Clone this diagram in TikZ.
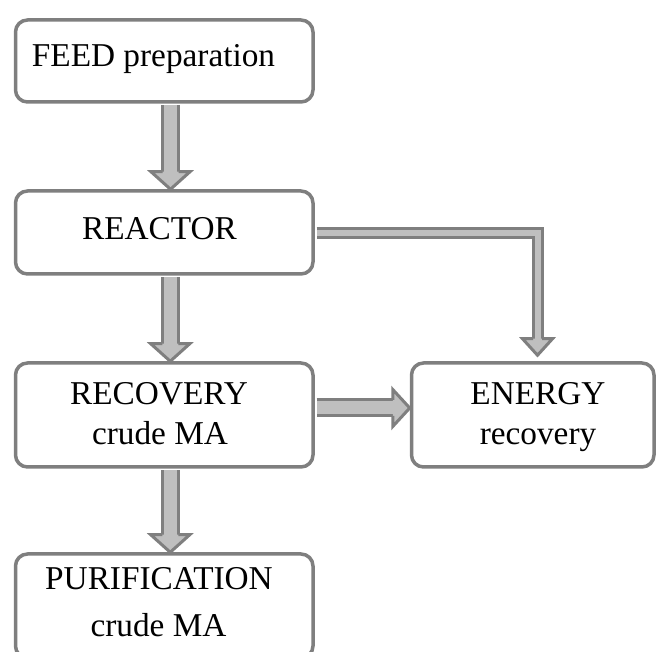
\documentclass[tikz,border=0pt]{standalone}
\usepackage{fontspec}
\setmainfont{Liberation Serif}
\usetikzlibrary{calc}
\definecolor{bordergray}{RGB}{127,127,127}
\definecolor{fillgray}{RGB}{191,191,191}
\begin{document}
\begin{tikzpicture}[x=1pt,y=-1pt,
  box/.style={draw=bordergray, line width=3.5pt, rounded corners=12pt, fill=white, inner sep=0pt},
  txt/.style={font=\fontsize{33.3}{40}\selectfont, inner sep=0pt, anchor=base},
  shaft/.style={draw=bordergray, line width=3pt, double=fillgray, double distance=13pt, line join=miter},
  thinshaft/.style={draw=bordergray, line width=3pt, double=fillgray, double distance=6pt, line join=miter},
  head/.style={draw=bordergray, fill=fillgray, line width=3pt, line join=miter}]

\useasboundingbox (0,0) rectangle (657,652);

% boxes
\node[box, minimum width=297.5pt, minimum height=82pt]  (feed)     at (164.25,61)  {};
\node[box, minimum width=297.5pt, minimum height=83pt]  (reactor)  at (164.25,232.5) {};
\node[box, minimum width=297.5pt, minimum height=104pt] (recovery) at (164.25,415) {};
\node[box, minimum width=242.5pt, minimum height=104pt] (energy)   at (532.75,415) {};
\node[box, minimum width=297.5pt, minimum height=104pt] (purif)    at (164.25,606) {};

% texts
\node[txt] (tfeed)    at (153.5,67)  {FEED preparation};
\node[txt] (treactor) at (159.5,240) {REACTOR};
\node[txt] (trec1)    at (159,405)   {RECOVERY};
\node[txt] (trec2)    at (160,445)   {crude MA};
\node[txt] (ten1)     at (538,405)   {ENERGY};
\node[txt] (ten2)     at (538,445)   {recovery};
\node[txt] (tpur1)    at (159,590)   {PURIFICATION};
\node[txt] (tpur2)    at (158.5,637) {crude MA};

% arrow FEED -> REACTOR
\coordinate (a1s) at ($(feed.south)+(6.25,1.75)$);
\coordinate (a1e) at ($(reactor.north)+(6.25,0)$);
\draw[shaft] (a1s) -- ($(a1e)+(0,-17.5)$);
\filldraw[head] ($(a1e)+(-8,-17.5)$) -- ($(a1e)+(-19.5,-17.5)$) -- (a1e) -- ($(a1e)+(19.5,-17.5)$) -- ($(a1e)+(8,-17.5)$);

% arrow REACTOR -> RECOVERY
\coordinate (a2s) at ($(reactor.south)+(6,1.75)$);
\coordinate (a2e) at ($(recovery.north)+(6,0)$);
\draw[shaft] (a2s) -- ($(a2e)+(0,-17.5)$);
\filldraw[head] ($(a2e)+(-8,-17.5)$) -- ($(a2e)+(-19.5,-17.5)$) -- (a2e) -- ($(a2e)+(19.5,-17.5)$) -- ($(a2e)+(8,-17.5)$);

% arrow RECOVERY -> PURIFICATION
\coordinate (a3s) at ($(recovery.south)+(6,1.75)$);
\coordinate (a3e) at ($(purif.north)+(6,0)$);
\draw[shaft] (a3s) -- ($(a3e)+(0,-17.5)$);
\filldraw[head] ($(a3e)+(-8,-17.5)$) -- ($(a3e)+(-19.5,-17.5)$) -- (a3e) -- ($(a3e)+(19.5,-17.5)$) -- ($(a3e)+(8,-17.5)$);

% arrow RECOVERY -> ENERGY
\coordinate (a4s) at ($(recovery.east)+(1.75,-7)$);
\coordinate (a4e) at ($(energy.west)+(0,-7)$);
\draw[shaft] (a4s) -- ($(a4e)+(-17,0)$);
\filldraw[head] ($(a4e)+(-17,-8)$) -- ($(a4e)+(-17,-18.5)$) -- (a4e) -- ($(a4e)+(-17,18.5)$) -- ($(a4e)+(-17,8)$);

% arrow REACTOR -> ENERGY (elbow)
\coordinate (a5s) at ($(reactor.east)+(1.75,0.5)$);
\coordinate (a5e) at ($(energy.north)+(4.75,-6)$);
\draw[thinshaft] (a5s) -| ($(a5e)+(0,-16.5)$);
\filldraw[head] ($(a5e)+(-4.5,-16.5)$) -- ($(a5e)+(-15,-16.5)$) -- (a5e) -- ($(a5e)+(15,-16.5)$) -- ($(a5e)+(4.5,-16.5)$);

\end{tikzpicture}
\end{document}
